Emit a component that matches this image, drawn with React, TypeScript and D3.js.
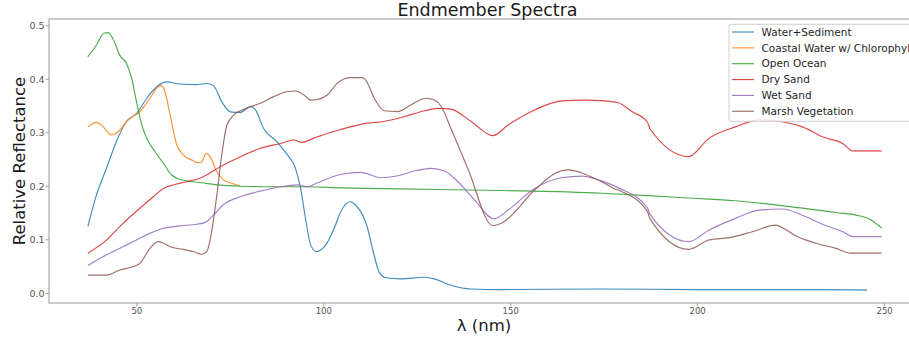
import React, { useEffect, useRef } from 'react';
import * as d3 from 'd3';

// Series names and colours (matplotlib tab10 order)
const seriesNames = [
  'Water+Sediment',
  'Coastal Water w/ Chlorophyl',
  'Open Ocean',
  'Dry Sand',
  'Wet Sand',
  'Marsh Vegetation',
];
const seriesColors = ['#1f77b4', '#ff7f0e', '#2ca02c', '#d62728', '#9467bd', '#8c564b'];

const xTicks = [50, 100, 150, 200, 250];
const yTicks = [0, 0.1, 0.2, 0.3, 0.4, 0.5];

// Water+Sediment
const waterLam = [36.9, 39.2, 41.9, 44.5, 47.2, 49.9, 52.6, 55.3, 58.0, 61.5, 66.0, 68.7, 70.5, 72.7, 75.0, 77.7, 80.3, 81.7, 83.9, 87.5, 90.2, 92.4, 93.8, 95.1, 96.5, 98.0, 100.5, 102.7, 104.5, 107.0, 108.5, 111.7, 113.0, 114.8, 116.6, 120.6, 126.9, 129.6, 133.2, 139.4, 147.5, 174.3, 200, 230, 245.3];
const waterVal = [0.125, 0.184, 0.234, 0.283, 0.321, 0.336, 0.364, 0.386, 0.395, 0.391, 0.39, 0.392, 0.388, 0.358, 0.339, 0.338, 0.349, 0.343, 0.308, 0.283, 0.259, 0.234, 0.196, 0.140, 0.090, 0.078, 0.090, 0.12, 0.152, 0.171, 0.165, 0.122, 0.084, 0.040, 0.029, 0.027, 0.030, 0.027, 0.017, 0.008, 0.007, 0.008, 0.007, 0.007, 0.006];

// Coastal Water w/ Chlorophyl
const coastLam = [36.9, 39.2, 40.5, 43.2, 45.0, 47.7, 50.8, 53.5, 55.7, 56.6, 57.5, 58.9, 60.7, 62.4, 64.7, 66.5, 67.4, 68.5, 69.6, 71.4, 73.2, 75.4, 77.7];
const coastVal = [0.311, 0.3195, 0.3145, 0.296, 0.302, 0.324, 0.3395, 0.364, 0.386, 0.388, 0.377, 0.333, 0.277, 0.2585, 0.249, 0.244, 0.246, 0.2615, 0.255, 0.227, 0.212, 0.2055, 0.2];

// Open Ocean
const oceanLam = [36.9, 39.2, 41.2, 42.3, 44.1, 45.4, 47.2, 48.6, 49.9, 51.3, 52.6, 54.8, 57.1, 59.3, 60.7, 63.3, 66.9, 72.3, 77.7, 86.6, 95.6, 104.5, 120.6, 147.5, 174.3, 187.8, 197.6, 210, 223.5, 236.9, 243.2, 245.9, 249.2];
const oceanVal = [0.442, 0.464, 0.486, 0.487, 0.468, 0.445, 0.43, 0.402, 0.358, 0.315, 0.29, 0.265, 0.243, 0.221, 0.215, 0.21, 0.207, 0.202, 0.2, 0.199, 0.199, 0.197, 0.195, 0.192, 0.187, 0.182, 0.178, 0.173, 0.163, 0.151, 0.145, 0.139, 0.122];

// Dry Sand
const drySandLam = [36.9, 41.4, 45.9, 50.8, 54.4, 57.1, 59.7, 63.3, 66.9, 72.3, 77.7, 83.0, 88.4, 92.0, 94.2, 97.3, 104.5, 111.7, 116.1, 121.5, 126.9, 130.5, 134.0, 139.4, 145.2, 149.3, 156.4, 163.6, 169.9, 174.3, 178.8, 182.4, 186.4, 186.9, 187.2, 197.6, 203.0, 210.1, 216.4, 220.9, 228.0, 233.9, 238.8, 241.5, 249.2];
const drySandVal = [0.075, 0.0965, 0.128, 0.159, 0.1805, 0.196, 0.2025, 0.2085, 0.215, 0.2365, 0.255, 0.271, 0.280, 0.2865, 0.282, 0.290, 0.306, 0.318, 0.321, 0.330, 0.341, 0.3455, 0.344, 0.321, 0.2945, 0.3145, 0.3425, 0.3595, 0.361, 0.360, 0.356, 0.3395, 0.321, 0.3145, 0.308, 0.2555, 0.2895, 0.311, 0.324, 0.322, 0.311, 0.291, 0.280, 0.266, 0.266];

// Wet Sand
const wetSandLam = [36.9, 41.9, 46.3, 50.8, 53.5, 57.1, 61.5, 66.0, 68.3, 70.5, 73.2, 77.7, 83.0, 88.4, 92.9, 95.6, 98.3, 104.5, 109.9, 115.3, 120.6, 124.2, 128.7, 132.3, 135.9, 140.3, 145.5, 149.3, 156.4, 163.6, 169.0, 174.3, 178.8, 186.6, 187.2, 197.6, 203.0, 210.1, 216.4, 222.7, 228.0, 233.9, 238.8, 241.5, 249.2];
const wetSandVal = [0.052, 0.072, 0.087, 0.103, 0.112, 0.1215, 0.126, 0.129, 0.1325, 0.146, 0.166, 0.1805, 0.191, 0.199, 0.2025, 0.199, 0.2065, 0.222, 0.226, 0.216, 0.221, 0.2285, 0.2335, 0.2285, 0.2085, 0.1745, 0.139, 0.1555, 0.196, 0.216, 0.219, 0.21, 0.197, 0.159, 0.148, 0.0965, 0.118, 0.140, 0.1555, 0.1575, 0.146, 0.1275, 0.115, 0.106, 0.106];

// Marsh Vegetation
const marshLam = [36.9, 41.9, 45.4, 49.0, 50.8, 53.5, 55.7, 57.1, 59.3, 62.4, 65.1, 67.4, 68.7, 70.0, 71.4, 72.7, 74.1, 75.9, 79.5, 83.0, 86.6, 90.2, 92.4, 94.7, 96.5, 98.3, 100.9, 103.6, 107.2, 110.3, 111.2, 113.5, 116.1, 119.7, 123.3, 127.3, 129.6, 131.4, 134.0, 138.5, 145.2, 147.5, 156.4, 161.8, 165.4, 169.9, 174.3, 177.9, 179.2, 186.6, 187.2, 197.6, 203.0, 208.4, 214.6, 220.9, 223.1, 226.2, 231.6, 237.0, 241.0, 249.2];
const marshVal = [0.034, 0.034, 0.0435, 0.050, 0.056, 0.084, 0.0965, 0.0935, 0.086, 0.082, 0.078, 0.073, 0.078, 0.115, 0.184, 0.2585, 0.3145, 0.333, 0.346, 0.355, 0.3675, 0.377, 0.378, 0.3705, 0.361, 0.362, 0.3705, 0.3925, 0.403, 0.403, 0.3985, 0.3645, 0.341, 0.3395, 0.352, 0.3645, 0.361, 0.349, 0.308, 0.2335, 0.1265, 0.131, 0.193, 0.224, 0.2305, 0.2225, 0.2085, 0.195, 0.1915, 0.1525, 0.140, 0.082, 0.0995, 0.104, 0.115, 0.1275, 0.121, 0.1075, 0.0935, 0.084, 0.075, 0.075];

const seriesLam = [waterLam, coastLam, oceanLam, drySandLam, wetSandLam, marshLam];
const seriesVal = [waterVal, coastVal, oceanVal, drySandVal, wetSandVal, marshVal];

const App = () => {
  const svgRef = useRef<SVGSVGElement>(null);

  useEffect(() => {
    const width = 909;
    const height = 341;
    // axes box (right edge runs past the picture, as in the original crop)
    const left = 49;
    const right = 922;
    const top = 19;
    const bottom = 303;
    const font = '"DejaVu Sans", sans-serif';

    const x = d3.scaleLinear().domain([26.5, 260]).range([left, right]);
    const y = d3.scaleLinear().domain([-0.0181, 0.5125]).range([bottom, top]);

    const svg = d3.select(svgRef.current);
    svg.selectAll('*').remove();
    svg.attr('width', width).attr('height', height).attr('viewBox', `0 0 ${width} ${height}`);

    svg.append('rect').attr('width', width).attr('height', height).attr('fill', '#fff');

    // lines
    const line = d3.line<[number, number]>()
      .x(d => x(d[0]))
      .y(d => y(d[1]))
      .curve(d3.curveMonotoneX);

    seriesLam.forEach((lam, i) => {
      const pts = lam.map((l, j) => [l, seriesVal[i][j]] as [number, number]);
      svg.append('path')
        .datum(pts)
        .attr('fill', 'none')
        .attr('stroke', seriesColors[i])
        .attr('stroke-opacity', 0.85)
        .attr('stroke-width', 1.15)
        .attr('d', line);
    });

    // spines
    svg.append('rect')
      .attr('x', left).attr('y', top)
      .attr('width', right - left).attr('height', bottom - top)
      .attr('fill', 'none')
      .attr('stroke', '#a0a0a0')
      .attr('stroke-width', 1.1);

    // x axis
    const gx = svg.append('g');
    xTicks.forEach(t => {
      gx.append('line')
        .attr('x1', x(t)).attr('x2', x(t))
        .attr('y1', bottom).attr('y2', bottom + 3.5)
        .attr('stroke', '#a0a0a0');
      gx.append('text')
        .attr('x', x(t)).attr('y', 314)
        .attr('text-anchor', 'middle')
        .attr('font-family', font)
        .attr('font-size', 8.5)
        .attr('fill', '#555')
        .text(String(t));
    });

    // y axis
    const gy = svg.append('g');
    yTicks.forEach(t => {
      gy.append('line')
        .attr('x1', left - 3.5).attr('x2', left)
        .attr('y1', y(t)).attr('y2', y(t))
        .attr('stroke', '#a0a0a0');
      gy.append('text')
        .attr('x', left - 4.5).attr('y', y(t))
        .attr('dy', '0.35em')
        .attr('text-anchor', 'end')
        .attr('font-family', font)
        .attr('font-size', 9.5)
        .attr('fill', '#555')
        .text(t.toFixed(1));
    });

    // title and axis labels
    svg.append('text')
      .attr('x', 487.5).attr('y', 15.5)
      .attr('text-anchor', 'middle')
      .attr('font-family', font)
      .attr('font-size', 17.5)
      .attr('fill', '#1a1a1a')
      .text('Endmember Spectra');

    svg.append('text')
      .attr('x', 484).attr('y', 330.5)
      .attr('text-anchor', 'middle')
      .attr('font-family', font)
      .attr('font-size', 16.5)
      .attr('fill', '#1a1a1a')
      .text('λ (nm)');

    svg.append('text')
      .attr('transform', 'translate(25, 161) rotate(-90)')
      .attr('text-anchor', 'middle')
      .attr('font-family', font)
      .attr('font-size', 16.5)
      .attr('fill', '#1a1a1a')
      .text('Relative Reflectance');

    // legend
    const lg = svg.append('g');
    lg.append('rect')
      .attr('x', 729).attr('y', 24.3)
      .attr('width', 200).attr('height', 97)
      .attr('rx', 2.5)
      .attr('fill', '#fff').attr('fill-opacity', 0.8)
      .attr('stroke', '#d0d0d0');
    seriesNames.forEach((name, i) => {
      const cy = 32 + i * 15.85;
      lg.append('line')
        .attr('x1', 732).attr('x2', 754)
        .attr('y1', cy).attr('y2', cy)
        .attr('stroke', seriesColors[i])
        .attr('stroke-opacity', 0.85)
        .attr('stroke-width', 1.15);
      lg.append('text')
        .attr('x', 761.5).attr('y', cy)
        .attr('dy', '0.35em')
        .attr('font-family', font)
        .attr('font-size', 10.5)
        .attr('fill', '#262626')
        .text(name);
    });
  }, []);

  return (
    <div style={{ position: 'absolute', left: 0, top: 0 }}>
      <svg ref={svgRef} style={{ display: 'block' }}></svg>
    </div>
  );
};

export default App;
